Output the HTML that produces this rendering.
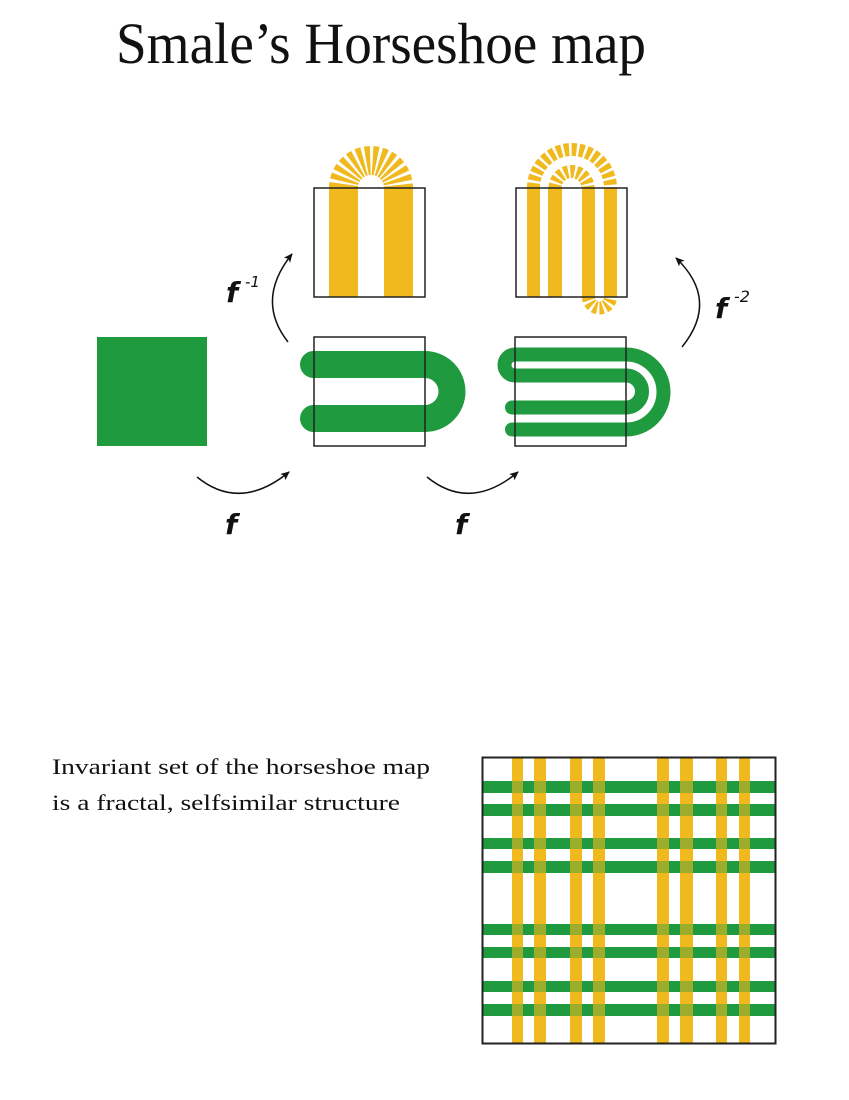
<!DOCTYPE html>
<html><head><meta charset="utf-8"><style>html,body{margin:0;padding:0;background:#fff}svg{display:block}</style></head>
<body>
<svg width="849" height="1100" viewBox="0 0 849 1100" xmlns="http://www.w3.org/2000/svg">
<defs>
<marker id="ah" markerWidth="10" markerHeight="10" refX="8" refY="5" orient="auto" markerUnits="userSpaceOnUse">
<path d="M0,1 L9,5 L0,9 L2,5 Z" fill="#111"/>
</marker>
</defs>
<text x="116" y="63" font-family="Liberation Serif, serif" font-size="58" fill="#111" textLength="530" lengthAdjust="spacingAndGlyphs">Smale’s Horseshoe map</text>

<rect x="97" y="337" width="110" height="109" fill="#1f9a3f"/>

<g fill="#f0b91e">
<rect x="329" y="188" width="29" height="109"/>
<rect x="384" y="188" width="29" height="109"/>
</g>
<path d="M343.5 188 A27.5 27.5 0 0 1 398.5 188" fill="none" stroke="#f0b91e" stroke-width="29" stroke-dasharray="4 2.4"/>
<rect x="314" y="188" width="111" height="109" fill="none" stroke="#222" stroke-width="1.5"/>

<g fill="#f0b91e">
<rect x="527" y="188" width="13" height="109"/>
<rect x="548" y="188" width="14" height="109"/>
<rect x="582" y="188" width="13" height="109"/>
<rect x="604" y="188" width="13" height="109"/>
</g>
<g fill="none" stroke="#f0b91e" stroke-width="13">
<path d="M533.5 188 A38.5 38.5 0 0 1 610.5 188" stroke-dasharray="5 2.5"/>
<path d="M555 188 A16.5 16.5 0 0 1 588 188" stroke-dasharray="4 2.2"/>
<path d="M588.5 297 A11 11 0 0 0 610.5 297" stroke-dasharray="3.5 2.2"/>
</g>
<rect x="516" y="188" width="111" height="109" fill="none" stroke="#222" stroke-width="1.5"/>

<path d="M313.5 364.5 H425 A27 27 0 0 1 425 418.5 H313.5" fill="none" stroke="#1f9a3f" stroke-width="27" stroke-linecap="round"/>
<rect x="314" y="337" width="111" height="109" fill="none" stroke="#222" stroke-width="1.5"/>

<path d="M512 429.5 H626 A37.5 37.5 0 0 0 626 354.5 H515 A10.5 10.5 0 0 0 515 375.5 H626 A16 16 0 0 1 626 407.5 H512" fill="none" stroke="#1f9a3f" stroke-width="14" stroke-linecap="round"/>
<rect x="515" y="337" width="111" height="109" fill="none" stroke="#222" stroke-width="1.5"/>

<g fill="none" stroke="#111" stroke-width="1.5" marker-end="url(#ah)">
<path d="M197 477 Q240 512 289 472"/>
<path d="M427 477 Q470 512 518 472"/>
<path d="M288 342 Q255 300 292 254"/>
<path d="M682 347 Q720 300 676 258"/>
</g>
<g font-family="DejaVu Sans, sans-serif" font-weight="bold" font-style="italic" fill="#111">
<text x="225" y="534" font-size="28">f</text>
<text x="455" y="534" font-size="28">f</text>
<text x="226" y="302" font-size="28">f</text>
<text x="245" y="287" font-size="15" font-weight="normal">-1</text>
<text x="715" y="318" font-size="28">f</text>
<text x="734" y="302" font-size="16" font-weight="normal">-2</text>
</g>

<g font-family="Liberation Serif, serif" font-size="22" fill="#111">
<text x="52" y="774" textLength="378" lengthAdjust="spacingAndGlyphs">Invariant set of the horseshoe map</text>
<text x="52" y="810" textLength="348" lengthAdjust="spacingAndGlyphs">is a fractal, selfsimilar structure</text>
</g>

<g fill="#1f9a3f">
<rect x="483" y="781" width="292" height="12"/>
<rect x="483" y="804" width="292" height="12"/>
<rect x="483" y="838" width="292" height="11"/>
<rect x="483" y="861" width="292" height="12"/>
<rect x="483" y="924" width="292" height="11"/>
<rect x="483" y="947" width="292" height="11"/>
<rect x="483" y="981" width="292" height="11"/>
<rect x="483" y="1004" width="292" height="12"/>
</g>
<g fill="#f0b91e" fill-opacity="0.6">
<rect x="512" y="758" width="11" height="285"/>
<rect x="534" y="758" width="12" height="285"/>
<rect x="570" y="758" width="12" height="285"/>
<rect x="593" y="758" width="12" height="285"/>
<rect x="657" y="758" width="12" height="285"/>
<rect x="680" y="758" width="13" height="285"/>
<rect x="716" y="758" width="11" height="285"/>
<rect x="739" y="758" width="11" height="285"/>
</g>
<g fill="#f0b91e">
<rect x="512" y="758" width="11" height="23"/><rect x="534" y="758" width="12" height="23"/><rect x="570" y="758" width="12" height="23"/><rect x="593" y="758" width="12" height="23"/><rect x="657" y="758" width="12" height="23"/><rect x="680" y="758" width="13" height="23"/><rect x="716" y="758" width="11" height="23"/><rect x="739" y="758" width="11" height="23"/>
<rect x="512" y="793" width="11" height="11"/><rect x="534" y="793" width="12" height="11"/><rect x="570" y="793" width="12" height="11"/><rect x="593" y="793" width="12" height="11"/><rect x="657" y="793" width="12" height="11"/><rect x="680" y="793" width="13" height="11"/><rect x="716" y="793" width="11" height="11"/><rect x="739" y="793" width="11" height="11"/>
<rect x="512" y="816" width="11" height="22"/><rect x="534" y="816" width="12" height="22"/><rect x="570" y="816" width="12" height="22"/><rect x="593" y="816" width="12" height="22"/><rect x="657" y="816" width="12" height="22"/><rect x="680" y="816" width="13" height="22"/><rect x="716" y="816" width="11" height="22"/><rect x="739" y="816" width="11" height="22"/>
<rect x="512" y="849" width="11" height="12"/><rect x="534" y="849" width="12" height="12"/><rect x="570" y="849" width="12" height="12"/><rect x="593" y="849" width="12" height="12"/><rect x="657" y="849" width="12" height="12"/><rect x="680" y="849" width="13" height="12"/><rect x="716" y="849" width="11" height="12"/><rect x="739" y="849" width="11" height="12"/>
<rect x="512" y="873" width="11" height="51"/><rect x="534" y="873" width="12" height="51"/><rect x="570" y="873" width="12" height="51"/><rect x="593" y="873" width="12" height="51"/><rect x="657" y="873" width="12" height="51"/><rect x="680" y="873" width="13" height="51"/><rect x="716" y="873" width="11" height="51"/><rect x="739" y="873" width="11" height="51"/>
<rect x="512" y="935" width="11" height="12"/><rect x="534" y="935" width="12" height="12"/><rect x="570" y="935" width="12" height="12"/><rect x="593" y="935" width="12" height="12"/><rect x="657" y="935" width="12" height="12"/><rect x="680" y="935" width="13" height="12"/><rect x="716" y="935" width="11" height="12"/><rect x="739" y="935" width="11" height="12"/>
<rect x="512" y="958" width="11" height="23"/><rect x="534" y="958" width="12" height="23"/><rect x="570" y="958" width="12" height="23"/><rect x="593" y="958" width="12" height="23"/><rect x="657" y="958" width="12" height="23"/><rect x="680" y="958" width="13" height="23"/><rect x="716" y="958" width="11" height="23"/><rect x="739" y="958" width="11" height="23"/>
<rect x="512" y="992" width="11" height="12"/><rect x="534" y="992" width="12" height="12"/><rect x="570" y="992" width="12" height="12"/><rect x="593" y="992" width="12" height="12"/><rect x="657" y="992" width="12" height="12"/><rect x="680" y="992" width="13" height="12"/><rect x="716" y="992" width="11" height="12"/><rect x="739" y="992" width="11" height="12"/>
<rect x="512" y="1016" width="11" height="27"/><rect x="534" y="1016" width="12" height="27"/><rect x="570" y="1016" width="12" height="27"/><rect x="593" y="1016" width="12" height="27"/><rect x="657" y="1016" width="12" height="27"/><rect x="680" y="1016" width="13" height="27"/><rect x="716" y="1016" width="11" height="27"/><rect x="739" y="1016" width="11" height="27"/>
</g>
<rect x="482.5" y="757.5" width="293" height="286" fill="none" stroke="#222" stroke-width="2"/>
</svg>
</body></html>
